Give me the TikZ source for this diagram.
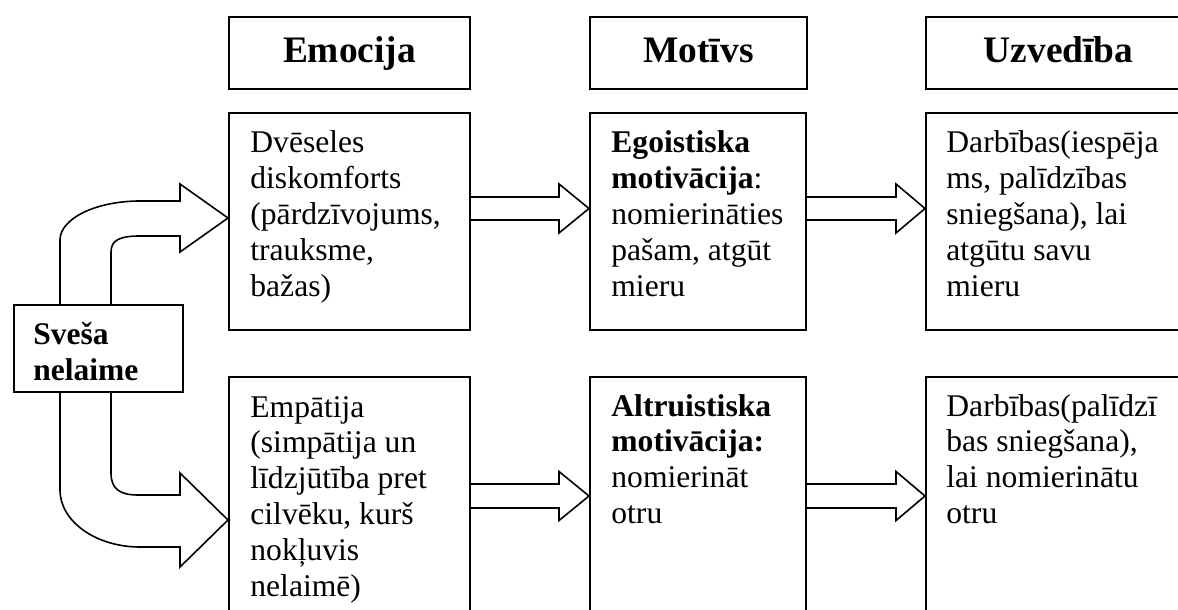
\documentclass[tikz,border=0pt]{standalone}
\usepackage{fontspec}
\setmainfont{Liberation Serif}
\usetikzlibrary{calc}
\newcommand\bodyfs{\fontsize{15.8}{17.9}\selectfont}
\newcommand\headfs{\fontsize{18.7}{22}\selectfont\bfseries}
\newcommand\sfs{\fontsize{15.75}{18}\selectfont\bfseries}
\newcommand\barrow[5]{%
  \draw[arr] ($(#1)+(0,-#3)$) -- ($(#2)+(-#5,-#3)$) -- ($(#2)+(-#5,-#4)$) -- (#2)
    -- ($(#2)+(-#5,#4)$) -- ($(#2)+(-#5,#3)$) -- ($(#1)+(0,#3)$);}
\begin{document}
\begin{tikzpicture}[x=0.5pt,y=-0.5pt,
  box/.style={draw, line width=1pt, inner sep=0, anchor=north west},
  txt/.style={anchor=base west, inner sep=0, font=\bodyfs},
  head/.style={anchor=base, inner sep=0, font=\headfs},
  arr/.style={draw, line width=0.8pt, line join=miter}]
\useasboundingbox (0,0) rectangle (1178,610);
\clip (0,0) rectangle (1178,610);
% headers
\node[box, minimum width=120.5pt, minimum height=36pt] (he) at (228,16) {};
\node[box, minimum width=108.5pt, minimum height=36pt] (hm) at (589,16) {};
\node[box, minimum width=132.5pt, minimum height=36pt] (hu) at (925,16) {};
\node[head] (the) at ($(he.north)+(0,47)$) {Emocija};
\node[head] (thm) at ($(hm.north)+(0,47)$) {Motīvs};
\node[head] (thu) at ($(hu.north)+(0,47)$) {Uzvedība};
% row boxes
\node[box, minimum width=120.5pt, minimum height=108.5pt] (e1) at (228,112) {};
\node[box, minimum width=108pt, minimum height=108.5pt] (m1) at (589,112) {};
\node[box, minimum width=132.5pt, minimum height=108.5pt] (u1) at (925,112) {};
\node[box, minimum width=120.5pt, minimum height=130pt] (e2) at (228,376) {};
\node[box, minimum width=108pt, minimum height=130pt] (m2) at (589,376) {};
\node[box, minimum width=132.5pt, minimum height=130pt] (u2) at (925,376) {};
% texts
\node[txt] (te1) at ($(e1.north west)+(22,41)$) {\parbox[t]{200pt}{\bodyfs Dvēseles\\diskomforts\\(pārdzīvojums,\\trauksme,\\bažas)}};
\node[txt] (tm1) at ($(m1.north west)+(22,41)$) {\parbox[t]{200pt}{\bodyfs \textbf{Egoistiska}\\\textbf{motivācija}:\\nomierināties\\pašam, atgūt\\mieru}};
\node[txt] (tu1) at ($(u1.north west)+(21,41)$) {\parbox[t]{200pt}{\bodyfs Darbības(iespēja\\ms, palīdzības\\sniegšana), lai\\atgūtu savu\\mieru}};
\node[txt] (te2) at ($(e2.north west)+(22,41)$) {\parbox[t]{200pt}{\bodyfs Empātija\\(simpātija un\\līdzjūtība pret\\cilvēku, kurš\\nokļuvis\\nelaimē)}};
\node[txt] (tm2) at ($(m2.north west)+(22,40)$) {\parbox[t]{200pt}{\bodyfs \textbf{Altruistiska}\\\textbf{motivācija:}\\nomierināt\\otru}};
\node[txt] (tu2) at ($(u2.north west)+(21,40)$) {\parbox[t]{200pt}{\bodyfs Darbības(palīdzī\\bas sniegšana),\\lai nomierinātu\\otru}};
% straight block arrows
\coordinate (a1s) at (e1.east |- 0,208.5);
\coordinate (a1e) at (m1.west |- 0,208.5);
\coordinate (a2s) at (m1.east |- 0,208.5);
\coordinate (a2e) at (u1.west |- 0,208.5);
\coordinate (a3s) at (e2.east |- 0,496);
\coordinate (a3e) at (m2.west |- 0,496);
\coordinate (a4s) at (m2.east |- 0,496);
\coordinate (a4e) at (u2.west |- 0,496);
\barrow{a1s}{a1e}{11.5}{24.5}{30}
\barrow{a2s}{a2e}{11.5}{24.5}{29}
\barrow{a3s}{a3e}{12}{24.5}{30}
\barrow{a4s}{a4e}{12}{24.5}{29}
% left box
\node[box, minimum width=84.5pt, minimum height=43.5pt, fill=white] (s) at (13,304) {};
\node[anchor=base west, inner sep=0] (ts) at ($(s.north west)+(20,40)$) {\parbox[t]{100pt}{\sfs Sveša\\nelaime}};
% curved block arrows
\coordinate (t1) at ($(s.north west)+(47,0)$);
\coordinate (t2) at ($(s.north west)+(98,0)$);
\coordinate (b1) at ($(s.south west)+(47,0)$);
\coordinate (b2) at ($(s.south west)+(98,0)$);
\coordinate (tipT) at (e1.west |- 0,218);
\coordinate (tipB) at (e2.west |- 0,520);
\draw[arr] (t1) -- (60,240) .. controls (60,218.5) and (96,201) .. (140,201) -- (180,201) -- (180,184)
  -- (tipT) -- (180,252) -- (180,236) -- (140,236) .. controls (120,236) and (111,240) .. (111,252) -- (t2);
\draw[arr] (b1) -- (60,490) .. controls (60,521.5) and (96,547) .. (140,547) -- (180,547) -- (180,567)
  -- (tipB) -- (180,473) -- (180,495) -- (138,495) .. controls (120,495) and (111,489) .. (111,473) -- (b2);
\end{tikzpicture}
\end{document}
